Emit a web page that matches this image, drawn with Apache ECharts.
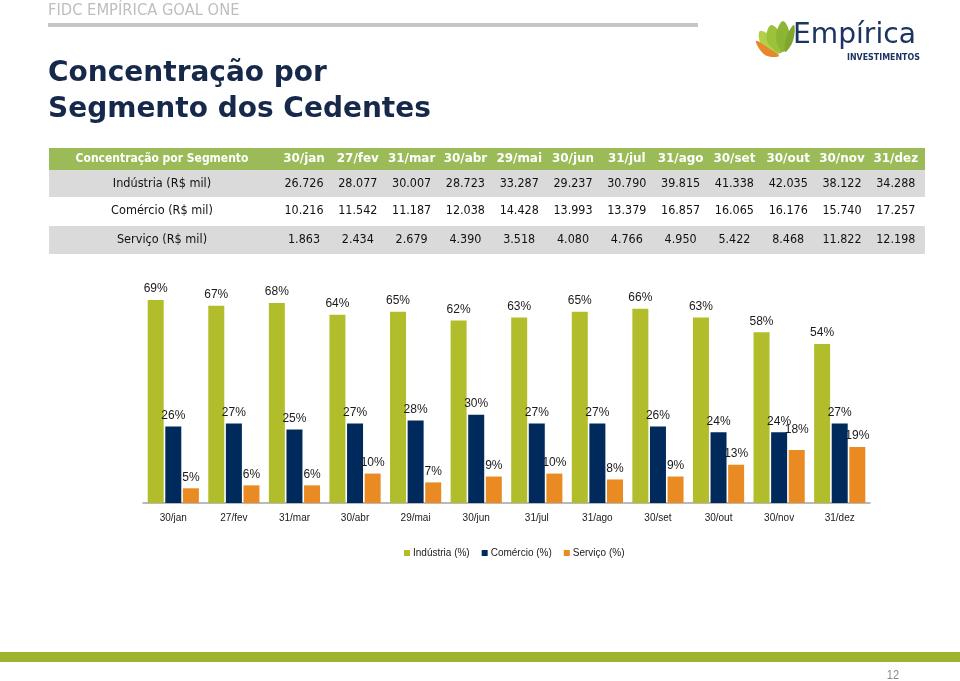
<!DOCTYPE html>
<html>
<head>
<meta charset="utf-8">
<script src="https://cdn.jsdelivr.net/npm/echarts@6/dist/echarts.min.js"></script>
<style>
  html, body { margin: 0; padding: 0; background: #fff; }
  #chart { width: 960px; height: 681px; }
</style>
</head>
<body>
<div id="chart"></div>
<script>
// ---- data ----
var categories = ['30/jan','27/fev','31/mar','30/abr','29/mai','30/jun','31/jul','31/ago','30/set','30/out','30/nov','31/dez'];
var industriaPct = [69, 67, 68, 64, 65, 62, 63, 65, 66, 63, 58, 54];
var comercioPct  = [26, 27, 25, 27, 28, 30, 27, 27, 26, 24, 24, 27];
var servicoPct   = [5, 6, 6, 10, 7, 9, 10, 8, 9, 13, 18, 19];
var industriaMil = [26726, 28077, 30007, 28723, 33287, 29237, 30790, 39815, 41338, 42035, 38122, 34288];
var comercioMil  = [10216, 11542, 11187, 12038, 14428, 13993, 13379, 16857, 16065, 16176, 15740, 17257];
var servicoMil   = [1863, 2434, 2679, 4390, 3518, 4080, 4766, 4950, 5422, 8468, 11822, 12198];
var tableHeader = 'Concentração por Segmento';
var rowLabels = ['Indústria (R$ mil)', 'Comércio (R$ mil)', 'Serviço (R$ mil)'];
var seriesNames = ['Indústria (%)', 'Comércio (%)', 'Serviço (%)'];

// ---- helpers ----
function fmt(v) { return String(v).replace(/\B(?=(\d{3})+(?!\d))/g, '.'); }
function txt(x, y, text, font, fill, sx, align) {
  return { type: 'text', x: x, y: y, scaleX: sx || 1, z: 10,
    style: { text: text, x: 0, y: 0, font: font, fill: fill,
      textAlign: align || 'center', textVerticalAlign: 'middle' } };
}

var GREEN = '#B1BD2A', NAVY = '#002A5C', ORANGE = '#E98B22';
var graphics = [];

// header strip
graphics.push(txt(48, 11, 'FIDC EMPÍRICA GOAL ONE', '16px "DejaVu Sans"', '#BEBEBE', 0.92, 'left'));
graphics.push({ type: 'rect', shape: { x: 48, y: 23, width: 650, height: 4 }, style: { fill: '#C6C6C6' } });

// title
graphics.push(txt(48, 74, 'Concentração por', 'bold 28px "DejaVu Sans"', '#16294A', 1, 'left'));
graphics.push(txt(48, 110, 'Segmento dos Cedentes', 'bold 28px "DejaVu Sans"', '#16294A', 1, 'left'));

// logo leaves
var leaves = [
  { p: [[779,54],[762,46],[760,31],[776,41]], c: '#B5CF4A' },
  { p: [[781,53],[767,41],[771,25],[783,38]], c: '#9CC23C' },
  { p: [[783,52],[776,37],[783,21],[790,37]], c: '#8DB535' },
  { p: [[785,52],[787,36],[794,25],[793,41]], c: '#7FA62E' },
  { p: [[779,56],[765,55],[756,41],[770,49]], c: '#E8862B' }
];
leaves.forEach(function (l) {
  graphics.push({ type: 'polygon', shape: { points: l.p, smooth: 0.4 }, style: { fill: l.c } });
});
graphics.push(txt(793, 35, 'Empírica', '29px "DejaVu Sans"', '#1C3461', 0.97, 'left'));
graphics.push(txt(847, 58, 'INVESTIMENTOS', 'bold 9px "DejaVu Sans"', '#1C3461', 0.88, 'left'));

// table
var colX = categories.map(function (c, i) { return 304 + i * 53.8; });
graphics.push({ type: 'rect', shape: { x: 49, y: 148, width: 876, height: 22 }, style: { fill: '#9BBB59' } });
graphics.push({ type: 'rect', shape: { x: 49, y: 170, width: 876, height: 27 }, style: { fill: '#DADADA' } });
graphics.push({ type: 'rect', shape: { x: 49, y: 226, width: 876, height: 28 }, style: { fill: '#DADADA' } });
graphics.push(txt(162, 159, tableHeader, 'bold 13px "DejaVu Sans"', '#FFFFFF', 0.83));
categories.forEach(function (c, i) {
  graphics.push(txt(colX[i], 159, c, 'bold 13px "DejaVu Sans"', '#FFFFFF', 0.92));
});
var rowY = [184, 211, 240];
[industriaMil, comercioMil, servicoMil].forEach(function (arr, r) {
  graphics.push(txt(162, rowY[r], rowLabels[r], '13px "DejaVu Sans"', '#111111', 0.87));
  arr.forEach(function (v, i) {
    graphics.push(txt(colX[i], rowY[r], fmt(v), '13px "DejaVu Sans"', '#111111', 0.86));
  });
});

// footer
graphics.push({ type: 'rect', shape: { x: 0, y: 652, width: 960, height: 10 }, style: { fill: '#9DB52E' } });
graphics.push(txt(893, 675, '12', '13px "Liberation Sans"', '#8A8A8A', 0.85));

// ---- chart ----
var labelBase = { show: true, position: 'top', distance: 5, formatter: '{c}%',
  color: '#1A1A1A', fontSize: 12, fontFamily: '"Liberation Sans"' };

function buildData(values, tweak) {
  return values.map(function (v, i) {
    var d = { value: v };
    if (tweak && tweak[i]) d.label = tweak[i];
    return d;
  });
}
// label for Serviço at 30/nov sits higher in the reference
var servicoLabelTweak = {}; servicoLabelTweak[10] = { offset: [0, -9] };

var chart = echarts.init(document.getElementById('chart'), null, { renderer: 'canvas' });
chart.setOption({
  animation: false,
  backgroundColor: '#FFFFFF',
  graphic: graphics,
  grid: { left: 143, right: 90, top: 297, bottom: 178 },
  legend: {
    left: 399, top: 543, itemWidth: 6, itemHeight: 6, itemGap: 12,
    icon: 'rect',
    textStyle: { fontSize: 10, fontFamily: '"Liberation Sans"', color: '#1A1A1A', padding: [0, 0, 0, -2] },
    data: seriesNames
  },
  xAxis: {
    type: 'category', data: categories,
    axisTick: { show: false },
    axisLine: { lineStyle: { color: '#A4A4A4', width: 1.5 } },
    axisLabel: { margin: 10, fontSize: 10, fontFamily: '"Liberation Sans"', color: '#1A1A1A' }
  },
  yAxis: { type: 'value', min: 0, max: 70, show: false, splitLine: { show: false } },
  series: [
    { name: seriesNames[0], type: 'bar', data: buildData(industriaPct), barWidth: 16, barGap: '10%',
      itemStyle: { color: GREEN }, label: labelBase },
    { name: seriesNames[1], type: 'bar', data: buildData(comercioPct), barWidth: 16, barGap: '10%',
      itemStyle: { color: NAVY }, label: labelBase },
    { name: seriesNames[2], type: 'bar', data: buildData(servicoPct, servicoLabelTweak), barWidth: 16, barGap: '10%',
      itemStyle: { color: ORANGE }, label: labelBase }
  ]
});
</script>
</body>
</html>
